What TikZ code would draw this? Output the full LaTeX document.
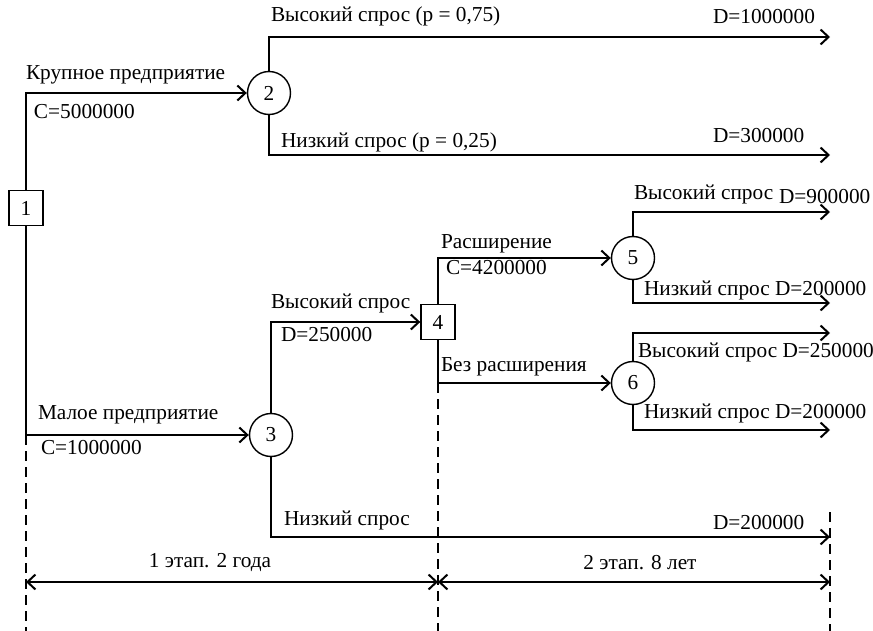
\documentclass[tikz,border=0pt]{standalone}
\usepackage{fontspec}
\setmainfont{Liberation Serif}
\usetikzlibrary{arrows.meta}

\begin{document}
\begin{tikzpicture}[x=1pt,y=-1pt,->,>={Straight Barb[length=8pt,width=15pt]},line width=2pt,
    font=\fontsize{21.3}{24}\selectfont,
    dec node/.style={draw,minimum width=34pt,minimum height=35pt,inner sep=0pt,line width=1.4pt},
    ch node/.style={circle,draw,minimum size=43pt,inner sep=0pt,line width=1.4pt},
    lbl/.style={anchor=west,inner sep=0pt},
    bound/.style={-,dash pattern=on 10pt off 6pt,line width=2.4pt}]
  \useasboundingbox (0,0) rectangle (873,631);

  % decision and chance nodes
  \node[dec node] (n1) at (26,208) {1};
  \node[ch node]  (n2) at (269,93) {2};
  \node[ch node]  (n3) at (271,435) {3};
  \node[dec node] (n4) at (438,322) {4};
  \node[ch node]  (n5) at (633,258) {5};
  \node[ch node]  (n6) at (633,383) {6};

  % ends of the branches
  \coordinate (e1) at (830,37);
  \coordinate (e2) at (830,155);
  \coordinate (e3) at (830,212);
  \coordinate (e4) at (830,303);
  \coordinate (e5) at (830,333);
  \coordinate (e6) at (830,430);
  \coordinate (e7) at (830,537);

  \draw (n1) |- (n2);
  \draw (n1) |- (n3);
  \draw (n2) |- (e1);
  \draw (n2) |- (e2);
  \draw (n3) |- (n4);
  \draw (n3) |- (e7);
  \draw (n4) |- (n5);
  \draw (n4) |- (n6);
  \draw (n5) |- (e3);
  \draw (n5) |- (e4);
  \draw (n6) |- (e5);
  \draw (n6) |- (e6);

  % stage borders
  \coordinate (b1) at (26,631);
  \coordinate (b2) at (438,631);
  \coordinate (r1) at (830,512);
  \coordinate (b3) at (830,631);
  \draw[bound] (n1 |- n3) -- (b1);
  \draw[bound] (n4 |- n6) -- (b2);
  \draw[bound] (r1) -- (b3);

  \coordinate (d1) at (26,582);
  \coordinate (d2) at (438,582);
  \coordinate (d3) at (830,582);
  \draw[<->] (d1) -- (d2);
  \draw[<->] (d2) -- (d3);
  \node[inner sep=0pt] (s1) at (210,563) {1 этап. 2 года};
  \node[inner sep=0pt] (s2) at (640,563) {2 этап. 8 лет};

  % labels
  \node[lbl] (t1)  at (270,16)  {Высокий спрос (p = 0,75)};
  \node[lbl] (t2)  at (712,17)  {D=1000000};
  \node[lbl] (t3)  at (25,75)   {Крупное предприятие};
  \node[lbl] (t4)  at (33,112)  {C=5000000};
  \node[lbl] (t5)  at (280,142) {Низкий спрос (p = 0,25)};
  \node[lbl] (t6)  at (712,136) {D=300000};
  \node[lbl] (t7)  at (633,194) {Высокий спрос};
  \node[lbl] (t8)  at (778,197) {D=900000};
  \node[lbl] (t9)  at (440,244) {Расширение};
  \node[lbl] (t10) at (445,268) {C=4200000};
  \node[lbl] (t11) at (643,290) {Низкий спрос D=200000};
  \node[lbl] (t12) at (270,303) {Высокий спрос};
  \node[lbl] (t13) at (280,335) {D=250000};
  \node[lbl] (t14) at (637,352) {Высокий спрос D=250000};
  \node[lbl] (t15) at (440,367) {Без расширения};
  \node[lbl] (t16) at (643,413) {Низкий спрос D=200000};
  \node[lbl] (t17) at (37,415)  {Малое предприятие};
  \node[lbl] (t18) at (40,448)  {C=1000000};
  \node[lbl] (t19) at (283,520) {Низкий спрос};
  \node[lbl] (t20) at (712,523) {D=200000};
\end{tikzpicture}
\end{document}
